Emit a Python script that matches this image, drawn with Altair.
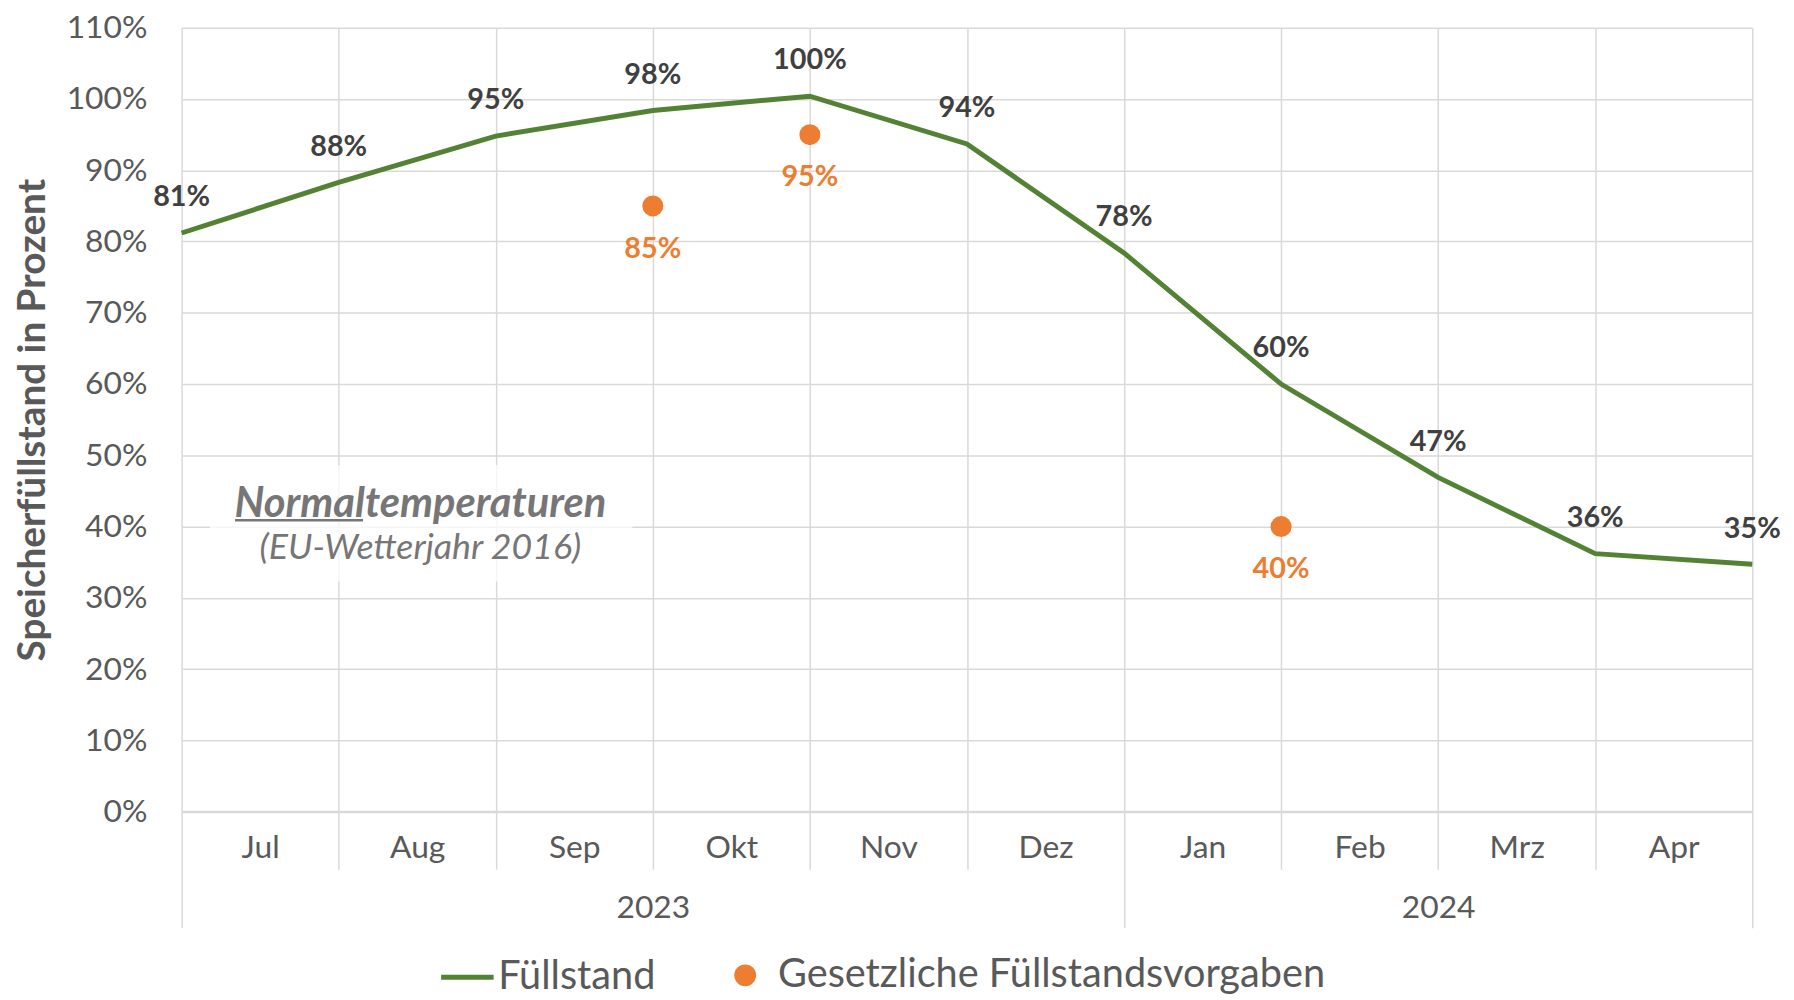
import altair as alt
import pandas as pd

# ---- data ----
months = ["Jul", "Aug", "Sep", "Okt", "Nov", "Dez", "Jan", "Feb", "Mrz", "Apr"]
years = ["2023", "2024"]
year_centers = [3, 8]
year_bounds = [0, 6, 10]
fill_pos = [0, 1, 2, 3, 4, 5, 6, 7, 8, 9, 10]
fill_values = [81.2, 88.3, 94.8, 98.4, 100.4, 93.7, 78.4, 60.0, 46.9, 36.2, 34.7]
fill_labels = ["81%", "88%", "95%", "98%", "100%", "94%", "78%", "60%", "47%", "36%", "35%"]
target_pos = [3, 4, 7]
target_values = [85, 95, 40]
target_labels = ["85%", "95%", "40%"]
y_ticks = [0, 10, 20, 30, 40, 50, 60, 70, 80, 90, 100, 110]

note_title = "Normaltemperaturen"
note_sub = "(EU-Wetterjahr 2016)"
note_x = [1.52]
note_y_title = [43.2]
note_y_sub = [37.0]
note_box_x = [0.18, 2.87]
note_box_y = [32.3, 48.6]
note_ul_x = [0.34, 1.155]
note_ul_y = [40.9]

SERIES_LINE = "Füllstand"
SERIES_PTS = "Gesetzliche Füllstandsvorgaben"

GREEN = "#548235"
ORANGE = "#ED7D31"
GRID = "#d9d9d9"
TXT = "#595959"
FONT = "Lato"

df_line = pd.DataFrame({"pos": fill_pos, "val": fill_values, "lab": fill_labels, "series": SERIES_LINE})
df_pts = pd.DataFrame({"pos": target_pos, "val": target_values, "lab": target_labels, "series": SERIES_PTS})
df_box = pd.DataFrame({"pos": [note_box_x[0]], "pos2": [note_box_x[1]], "val": [note_box_y[0]], "val2": [note_box_y[1]]})
df_note1 = pd.DataFrame({"pos": note_x, "val": note_y_title, "t": [note_title]})
df_note2 = pd.DataFrame({"pos": note_x, "val": note_y_sub, "t": [note_sub]})
df_ul = pd.DataFrame({"pos": [note_ul_x[0]], "pos2": [note_ul_x[1]], "val": note_ul_y})

xscale = alt.Scale(domain=[0, 10], nice=False, zero=False)
yscale = alt.Scale(domain=[0, 110], nice=False)

yaxis = alt.Axis(
    values=y_ticks, labelExpr="datum.value + '%'", grid=True, gridColor=GRID, gridWidth=1.5,
    domain=False, ticks=False, labelFontSize=32, labelColor=TXT, labelFont=FONT, labelPadding=35,
    title="Speicherfüllstand in Prozent", titleFontSize=39, titleFont=FONT, titleFontWeight="bold",
    titleColor=TXT, titlePadding=14,
)

bound_test = " || ".join(f"datum.value == {b}" for b in year_bounds)
grid_axis = alt.Axis(
    orient="bottom", values=fill_pos, labels=False, grid=True, gridColor=GRID, gridWidth=1.5,
    domain=True, domainColor=GRID, domainWidth=2.5, ticks=True, tickColor=GRID, tickWidth=1.5,
    tickSize={"condition": {"test": bound_test, "value": 117}, "value": 58}, title=None,
)

month_js = "[" + ",".join(f"'{m}'" for m in months) + "]"
month_axis = alt.Axis(
    orient="bottom", values=[i + 0.5 for i in range(len(months))],
    labelExpr=f"{month_js}[floor(datum.value)]", ticks=False, tickSize=0, domain=False, grid=False,
    labelFontSize=32, labelColor=TXT, labelFont=FONT, labelBaseline="middle", labelPadding=36,
    labelAngle=0, labelFlush=False, labelOverlap=False, title=None,
)

year_js = "[" + ",".join(f"'{y}'" for y in years) + "]"
year_axis = alt.Axis(
    orient="bottom", values=year_centers,
    labelExpr=f"{year_js}[datum.value < 5 ? 0 : 1]", ticks=False, tickSize=0, domain=False, grid=False,
    labelFontSize=32, labelColor=TXT, labelFont=FONT, labelBaseline="middle", labelPadding=97,
    labelAngle=0, labelFlush=False, labelOverlap=False, title=None,
)

box = alt.Chart(df_box).mark_rect(color="white", opacity=0.75).encode(
    x=alt.X("pos:Q", scale=xscale, axis=None), x2="pos2",
    y=alt.Y("val:Q", scale=yscale, axis=yaxis), y2="val2",
)

line = alt.Chart(df_line).mark_line(strokeWidth=5).encode(
    x=alt.X("pos:Q", scale=xscale, axis=grid_axis),
    y=alt.Y("val:Q", scale=yscale, axis=yaxis),
    stroke=alt.Stroke("series:N", scale=alt.Scale(domain=[SERIES_LINE], range=[GREEN]),
                      legend=alt.Legend(orient="none", legendX=259, legendY=928, title=None,
                                        symbolType="stroke", symbolSize=2800, symbolStrokeWidth=5,
                                        labelFontSize=40, labelColor=TXT, labelFont=FONT,
                                        labelOffset=2, labelLimit=0, padding=0)),
)

pts = alt.Chart(df_pts).mark_circle(size=450, opacity=1).encode(
    x=alt.X("pos:Q", scale=xscale, axis=None),
    y=alt.Y("val:Q", scale=yscale, axis=yaxis),
    fill=alt.Fill("series:N", scale=alt.Scale(domain=[SERIES_PTS], range=[ORANGE]),
                  legend=alt.Legend(orient="none", legendX=548, legendY=935, title=None,
                                    symbolType="circle", symbolSize=484, symbolStrokeWidth=0,
                                    symbolOpacity=1,
                                    labelFontSize=40, labelColor=TXT, labelFont=FONT,
                                    labelOffset=13, labelLimit=0, padding=0)),
)

line_labels = alt.Chart(df_line).mark_text(
    dy=-36, fontSize=29, fontWeight="bold", font=FONT, color="#404040", baseline="middle"
).encode(
    x=alt.X("pos:Q", scale=xscale, axis=month_axis),
    y=alt.Y("val:Q", scale=yscale, axis=yaxis),
    text="lab:N",
)

pt_labels = alt.Chart(df_pts).mark_text(
    dy=43, fontSize=29, fontWeight="bold", font=FONT, color=ORANGE, baseline="middle"
).encode(
    x=alt.X("pos:Q", scale=xscale, axis=year_axis),
    y=alt.Y("val:Q", scale=yscale, axis=yaxis),
    text="lab:N",
)

note1 = alt.Chart(df_note1).mark_text(
    fontSize=42, fontWeight="bold", fontStyle="italic", font=FONT, color="#767676", baseline="middle"
).encode(
    x=alt.X("pos:Q", scale=xscale, axis=None),
    y=alt.Y("val:Q", scale=yscale, axis=yaxis),
    text="t:N",
)

note2 = alt.Chart(df_note2).mark_text(
    fontSize=36, fontStyle="italic", font=FONT, color="#767676", baseline="middle"
).encode(
    x=alt.X("pos:Q", scale=xscale, axis=None),
    y=alt.Y("val:Q", scale=yscale, axis=yaxis),
    text="t:N",
)

underline = alt.Chart(df_ul).mark_rule(color="#767676", strokeWidth=2.5).encode(
    x=alt.X("pos:Q", scale=xscale, axis=None), x2="pos2",
    y=alt.Y("val:Q", scale=yscale, axis=yaxis),
)

chart = (
    alt.layer(box, line, pts, line_labels, pt_labels, note1, note2, underline)
    .resolve_axis(x="independent")
    .resolve_legend(stroke="independent", fill="independent")
    .properties(width=1583, height=790, background="white",
                padding={"left": 5, "top": 0, "right": 5, "bottom": 5})
    .configure_view(stroke=None)
)

chart.save("out.html", embed_options={"renderer": "svg", "actions": False})
